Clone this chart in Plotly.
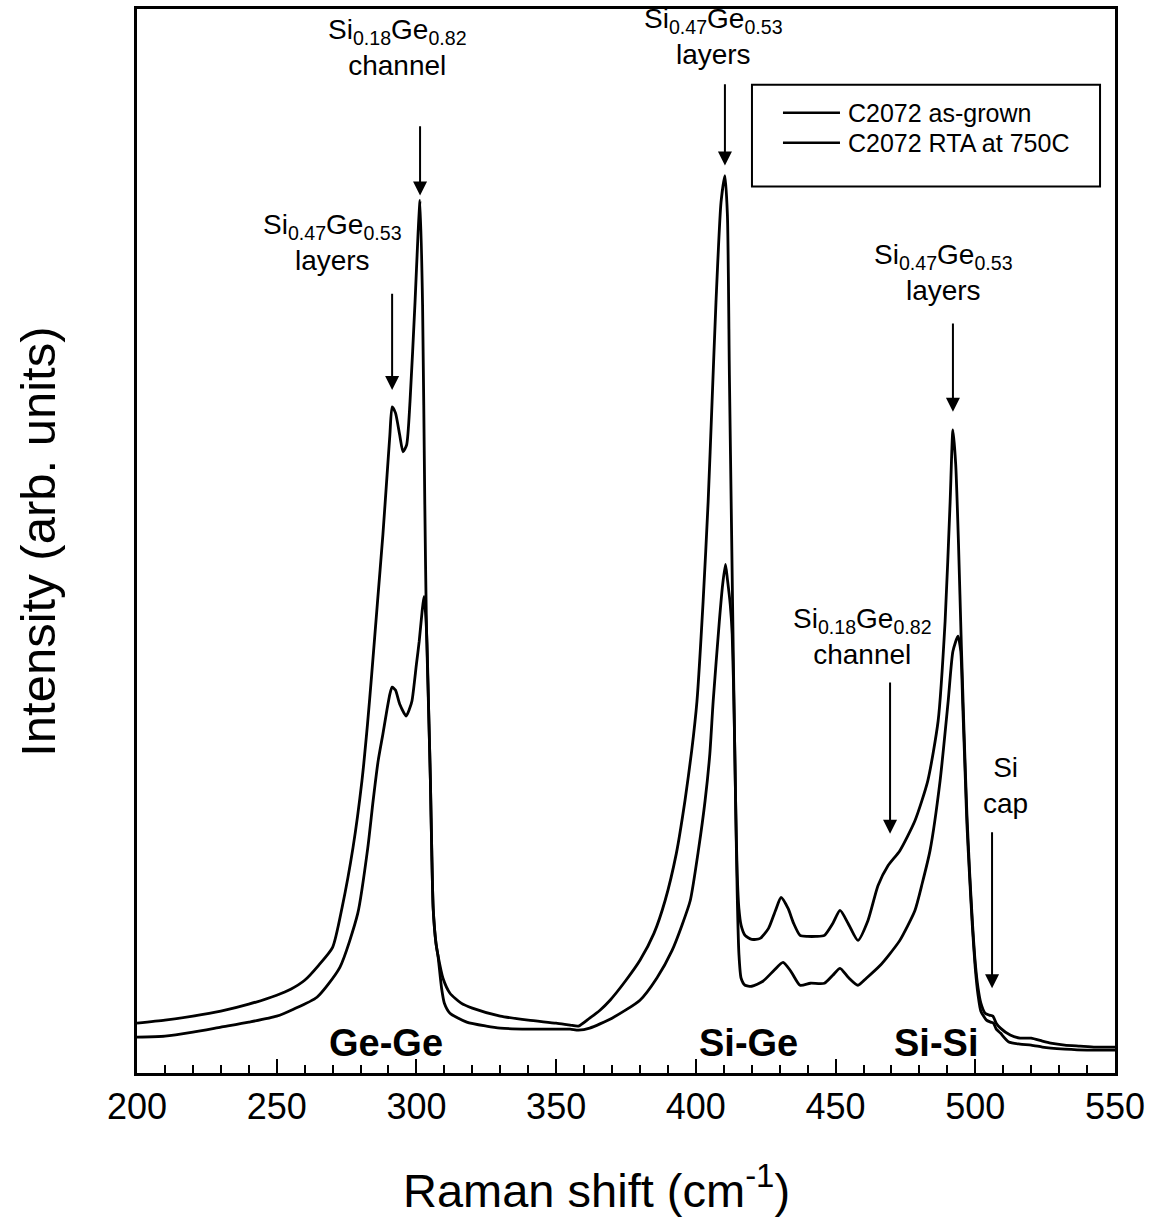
import plotly.graph_objects as go

# Raman spectra of sample C2072 (intensity in arbitrary units)
shift_as_grown = [
    200, 210, 220, 230, 240, 250, 255, 260, 265, 270, 273.4, 277.3, 280.5, 282.5, 284, 286, 288,
    289.5, 290.5, 291.3, 292.5, 294, 295.2, 296.5, 297.7, 299.5, 300.6, 301.3, 302.2, 303.0,
    303.6, 304.5, 305.0, 305.5, 306.0, 307.0, 307.7, 309.5, 312, 316, 320, 330, 340, 350, 355,
    358, 362, 365.7, 369.3, 375, 380, 385, 389, 393, 396.1, 398.5, 400.4, 402.6, 404.4, 405.8,
    407.2, 409, 410.4, 411.3, 412, 412.8, 413.5, 414.3, 414.8, 415.4, 416.2, 417.6, 420, 423,
    426, 428.5, 430.5, 433, 435, 437.3, 440, 443, 446, 449, 451.6, 454.5, 458, 461.6, 465.2,
    468.8, 473, 478.4, 483, 486.7, 489.2, 491, 492, 493, 494, 495, 496, 497, 498, 499, 500, 501,
    502, 503.5, 505, 506.3, 507.5, 509, 512.5, 516, 520, 524, 527, 532, 537.5, 543, 550,
]
int_as_grown = [
    50, 53, 57, 62, 69, 78, 84, 93, 108, 126, 166, 226, 293, 350, 400, 470, 540,
    600, 640, 668, 662, 640, 623, 630, 673, 773, 843, 875, 770, 570,
    445, 350, 293, 220, 165, 130, 118, 95, 80, 70, 65, 57, 53, 50, 48,
    47, 55, 63, 73, 93, 113, 140, 173, 220, 273, 323, 373, 473, 573, 673,
    773, 873, 900, 860, 700, 540, 400, 260, 200, 165, 148, 138, 134, 135,
    145, 163, 176, 165, 150, 138, 137, 137, 138, 150, 163, 150, 133, 153, 188,
    208, 223, 253, 293, 353, 453, 573, 645, 610, 530, 430, 340, 260, 200, 150, 110, 85,
    70, 60, 58, 57, 50, 45, 38, 35, 35, 32, 30, 28, 27, 26, 26,
]

shift_rta = [
    200, 210, 220, 230, 240, 250, 256, 264.4, 272.6, 279, 282.6, 284.5, 286.3, 288, 289.5,
    290.5, 291.3, 292.5, 294, 296.3, 297.5, 298.4, 300, 301, 302, 302.7, 303.3, 303.8, 304.5,
    305.0, 305.5, 306.0, 307.0, 307.7, 309, 310, 312, 318, 325, 330, 340, 350, 355, 358, 362,
    370, 380, 386, 391.5, 395, 398, 401, 403.3, 405, 406.2, 408.4, 409.6, 410.6, 411.3, 412.3,
    413.0, 413.7, 414.3, 414.8, 415.4, 416.2, 417.6, 420, 424, 428, 431.2, 434, 437.3, 441, 446,
    449, 451.6, 454.5, 458, 461, 466, 469, 473, 478.4, 481, 483.8, 487.4, 490.3, 492, 493.8,
    494.8, 495.5, 496.5, 497, 498, 499, 500, 501, 502, 504, 505.5, 506.5, 507.5, 509, 512, 516,
    520, 524, 527, 532, 540, 550,
]
int_rta = [
    36, 37, 41, 46, 51, 57, 64, 76, 106, 160, 226, 273, 313, 340, 365,
    380, 387, 384, 370, 358, 365, 373, 410, 433, 462, 478, 460, 430, 350,
    293, 220, 165, 130, 118, 85, 70, 60, 51, 47, 45, 44, 44, 44, 43, 45,
    55, 73, 95, 123, 148, 173, 225, 273, 320, 373, 453, 490, 510, 495, 470,
    440, 360, 260, 180, 120, 95, 88, 87, 92, 103, 111, 102, 88, 90, 90,
    98, 105, 96, 88, 95, 108, 118, 133, 163, 190, 223, 293, 373, 423, 438,
    423, 370, 290, 250, 195, 145, 105, 78, 62, 53, 51, 50, 44, 40, 31, 29,
    28, 26, 25, 24, 23, 23,
]

series_names = ["C2072 as-grown", "C2072 RTA at 750C"]

FONT = "Liberation Sans, Arial, sans-serif"
BLACK = "black"

fig = go.Figure()
for name, xs, ys in [(series_names[0], shift_as_grown, int_as_grown),
                     (series_names[1], shift_rta, int_rta)]:
    fig.add_trace(go.Scatter(x=xs, y=ys, mode="lines", name=name, showlegend=False,
                             line=dict(color=BLACK, width=2.8, shape="spline",
                                       smoothing=0.6)))

# peak assignment labels (text) and arrows (tail -> tip)
labels = [
    ("Si<sub>0.18</sub>Ge<sub>0.82</sub><br>channel", 293.1, 1028),
    ("Si<sub>0.47</sub>Ge<sub>0.53</sub><br>layers", 269.8, 833),
    ("Si<sub>0.47</sub>Ge<sub>0.53</sub><br>layers", 406.2, 1039),
    ("Si<sub>0.47</sub>Ge<sub>0.53</sub><br>layers", 488.8, 803),
    ("Si<sub>0.18</sub>Ge<sub>0.82</sub><br>channel", 459.5, 438),
    ("Si<br>cap", 510.7, 288),
]
arrows = [  # x, tail intensity, tip intensity
    (301.3, 951, 880),
    (291.3, 783, 685),
    (410.4, 993, 910),
    (492.0, 753, 663),
    (469.5, 393, 240),
    (506.0, 243, 85),
]
bands = [("Ge-Ge", 289.1, 30), ("Si-Ge", 418.7, 30), ("Si-Si", 486.0, 30)]

for text, x, y in labels:
    fig.add_annotation(x=x, y=y, text=text, showarrow=False,
                       font=dict(family=FONT, size=28, color=BLACK))
for x, y0, y1 in arrows:
    fig.add_annotation(x=x, y=y1, ax=x, ay=y0, axref="x", ayref="y", text="",
                       showarrow=True, arrowhead=2, arrowsize=1.4, arrowwidth=2,
                       arrowcolor=BLACK)
for text, x, y in bands:
    fig.add_annotation(x=x, y=y, text="<b>%s</b>" % text, showarrow=False,
                       font=dict(family=FONT, size=38, color=BLACK))

# legend box drawn in plot-area (paper) coordinates
fig.add_shape(type="rect", xref="paper", yref="paper",
              x0=0.6288, x1=0.9847, y0=0.8331, y1=0.9288,
              line=dict(color=BLACK, width=2), fillcolor="white", layer="above")
for i, name in enumerate(series_names):
    yy = 0.9025 - i * 0.0281
    fig.add_shape(type="line", xref="paper", yref="paper",
                  x0=0.6605, x1=0.7188, y0=yy, y1=yy,
                  line=dict(color=BLACK, width=2.5), layer="above")
    fig.add_annotation(xref="paper", yref="paper", x=0.7245, y=yy, text=name,
                       showarrow=False, xanchor="left", yanchor="middle",
                       font=dict(family=FONT, size=25, color=BLACK))

# axis titles
fig.add_annotation(xref="paper", yref="paper", x=0.470, y=-0.107,
                   text="Raman shift (cm<sup>-1</sup>)", showarrow=False,
                   xanchor="center", yanchor="middle",
                   font=dict(family=FONT, size=47, color=BLACK))
fig.add_annotation(xref="paper", yref="paper", x=-0.102, y=0.4995,
                   text="Intensity (arb. units)", showarrow=False, textangle=-90,
                   xanchor="center", yanchor="middle",
                   font=dict(family=FONT, size=49, color=BLACK))

fig.update_layout(
    width=1158, height=1230,
    margin=dict(l=137, r=43, t=6, b=157),
    plot_bgcolor="white", paper_bgcolor="white",
    font=dict(family=FONT, color=BLACK),
    showlegend=False,
    xaxis=dict(range=[200, 550], showgrid=False, zeroline=False,
               showline=True, linecolor=BLACK, linewidth=3, mirror=True,
               ticks="inside", ticklen=14, tickwidth=2, tickcolor=BLACK,
               dtick=50, tick0=200,
               minor=dict(ticks="inside", ticklen=8, tickwidth=2, dtick=10,
                          tickcolor=BLACK),
               tickfont=dict(family=FONT, size=36, color=BLACK)),
    yaxis=dict(range=[0, 1067], showgrid=False, zeroline=False,
               showline=True, linecolor=BLACK, linewidth=3, mirror=True,
               ticks="", showticklabels=False),
)

fig.write_html("out.html")
